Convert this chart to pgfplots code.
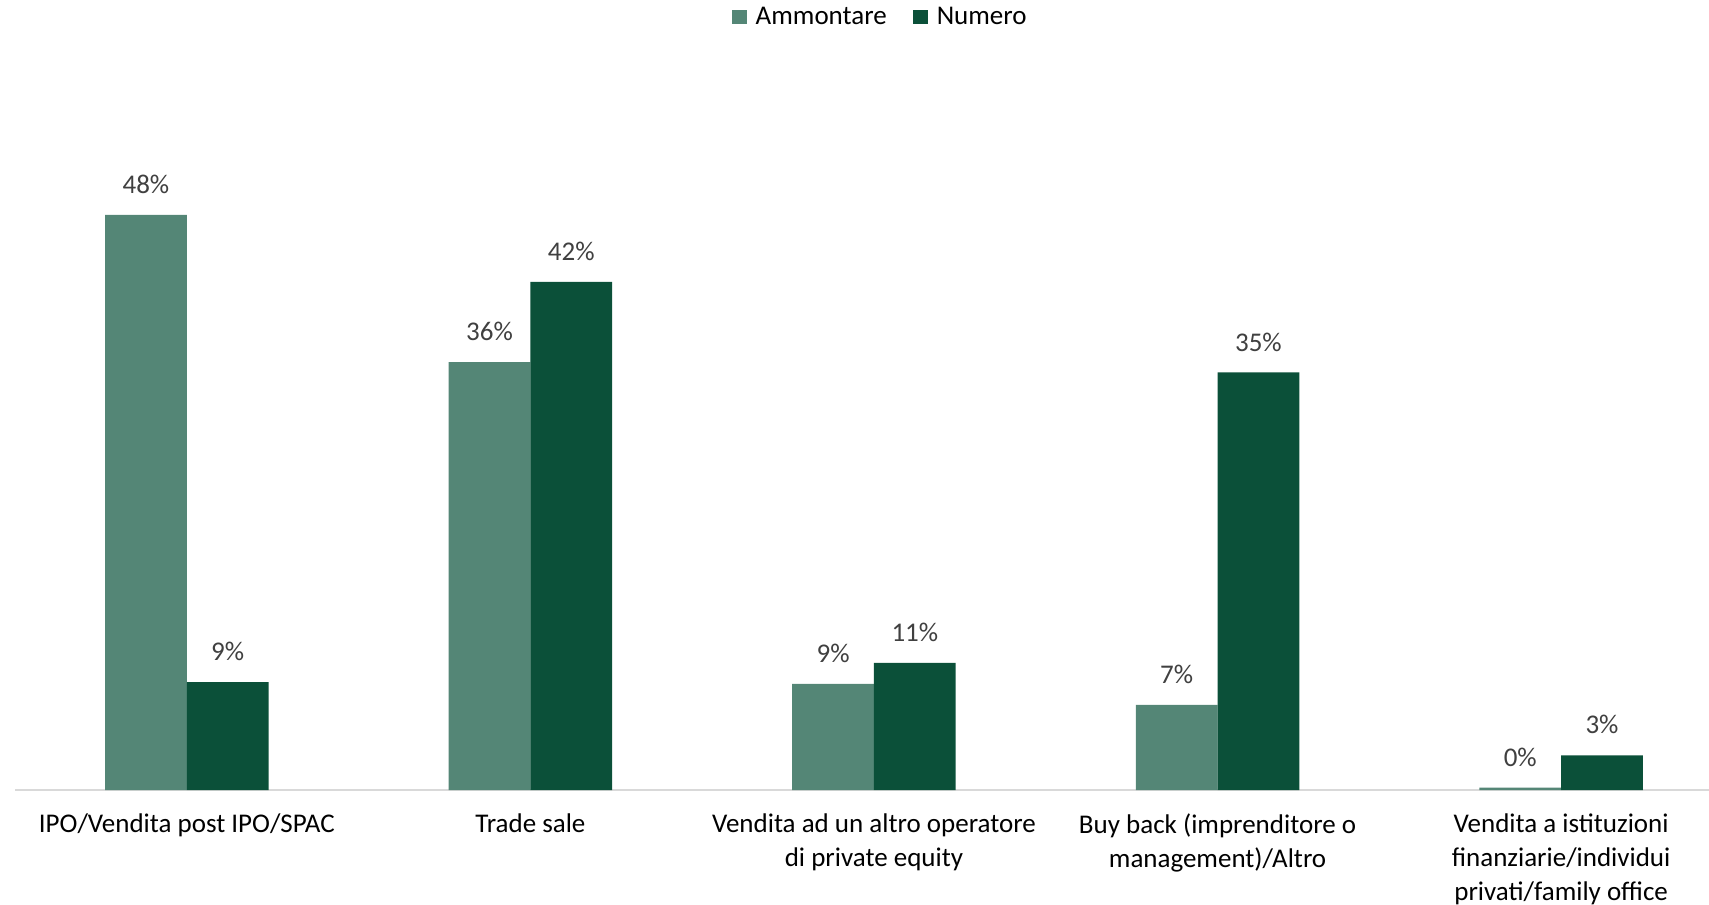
\documentclass[border=0pt]{standalone}
\usepackage{pgfplots}
\pgfplotsset{compat=1.18}
\usepackage{fontspec}
\setmainfont{Carlito}
\definecolor{amm}{HTML}{548676}
\definecolor{num}{HTML}{0B5039}
\definecolor{lbl}{HTML}{404040}
\definecolor{axl}{HTML}{D9D9D9}
\begin{document}
\begin{tikzpicture}
\path[use as bounding box] (-11.25pt,-85.5pt) rectangle (1270.5pt,592.5pt);
\begin{axis}[
 at={(0pt,0pt)}, anchor=south west,
 width=1288.5pt, height=539.25pt, scale only axis,
 ymin=0, ymax=60, xmin=-0.5, xmax=4.5,
 ybar=0pt, bar width=61.3pt,
 axis y line=none, axis x line*=bottom,
 x axis line style={draw=axl, line width=1.2pt, -},
 xtick={0,...,4},
 xticklabels={{IPO/Vendita post IPO/SPAC},{Trade sale},{Vendita ad un altro operatore\\di private equity},{Buy back (imprenditore o\\management)/Altro},{Vendita a istituzioni\\finanziarie/individui\\privati/family office}},
 xtick style={draw=none}, major tick length=0pt,
 xticklabel style={align=center, font=\fontsize{20.25}{25.5}\selectfont, text=black, yshift=-14pt},
 nodes near coords={\pgfmathprintnumber[fixed,precision=0,assume math mode=true]{\pgfplotspointmeta}\%},
 every node near coord/.append style={font=\fontsize{20.25}{25.5}\selectfont, text=lbl, anchor=base, yshift=16pt},
 legend style={at={(0.504,1.075)}, anchor=center, draw=none, fill=none, legend columns=2,
   font=\fontsize{20.25}{25.5}\selectfont,
   /tikz/every even column/.append style={column sep=18pt}},
 legend image code/.code={\fill[#1] (0pt,-5.5pt) rectangle (11pt,5.5pt); \path (15.5pt,0pt);},
 enlargelimits=false, clip=false,
]
\addplot[fill=amm, draw=none] coordinates {(0,48) (1,35.7) (2,8.85) (3,7.1) (4,0.2)};
\addplot[fill=num, draw=none] coordinates {(0,9) (1,42.4) (2,10.6) (3,34.85) (4,2.9)};
\legend{Ammontare,Numero}
\end{axis}
\end{tikzpicture}
\end{document}
